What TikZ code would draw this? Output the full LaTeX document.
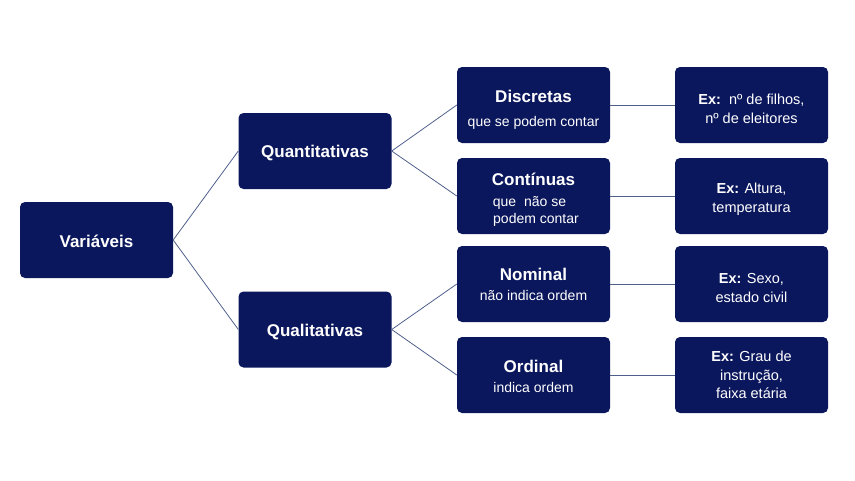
\documentclass[tikz,border=0pt]{standalone}
\usepackage{fontspec}
\setmainfont{Liberation Sans}
\definecolor{boxfill}{RGB}{11,23,92}
\definecolor{linecol}{RGB}{80,96,140}
\tikzset{
  x=1pt, y=-1pt,
  box/.style={draw=none, fill=boxfill, rounded corners=5pt, text=white, align=center,
    minimum width=153pt, minimum height=76pt, inner sep=2pt},
  sub/.style={font=\fontsize{14}{17}\selectfont},
  ex/.style={font=\fontsize{14.5}{18.8}\selectfont},
  conn/.style={draw=linecol, line width=0.8pt},
}
\newcommand{\ttl}[1]{{\fontsize{17}{20}\selectfont\bfseries #1}}
\newcommand{\up}[1]{\rule{0pt}{#1}}
\begin{document}
\begin{tikzpicture}
\useasboundingbox (0,0) rectangle (855,480);
\node[box,sub] (var) at (96.5,240) {\ttl{\up{15pt}Variáveis}};
\node[box,sub] (quan) at (315,151) {\ttl{\up{17pt}Quantitativas}};
\node[box,sub] (qual) at (315,329.5) {\ttl{\up{17pt}Qualitativas}};
\node[box,sub] (disc) at (533.5,105) {\ttl{\up{22pt}Discretas}\\[7pt]que se podem contar};
\node[box,sub] (cont) at (533.5,196) {\ttl{\up{20pt}Contínuas}\\[4pt]\hspace*{-8pt}que\ \ não se\\\hspace*{5pt}podem contar};
\node[box,sub] (nom) at (533.5,284) {\ttl{\up{13pt}Nominal}\\[3pt]não indica ordem};
\node[box,sub] (ord) at (533.5,375) {\ttl{\up{15pt}Ordinal}\\[3pt]indica ordem};
\node[box,ex] (exd) at (751.5,105) {\up{17.5pt}\textbf{Ex:}\ \ nº de filhos,\\nº de eleitores};
\node[box,ex] (exc) at (751.5,196) {\up{17.5pt}\textbf{Ex:} Altura,\\temperatura};
\node[box,ex] (exn) at (751.5,284) {\up{17.5pt}\textbf{Ex:} Sexo,\\estado civil};
\node[box,ex] (exo) at (751.5,375) {\textbf{Ex:} Grau de\\instrução,\\faixa etária};
\draw[conn] (var.east) -- (quan.west);
\draw[conn] (var.east) -- (qual.west);
\draw[conn] (quan.east) -- (disc.west);
\draw[conn] (quan.east) -- (cont.west);
\draw[conn] (qual.east) -- (nom.west);
\draw[conn] (qual.east) -- (ord.west);
\draw[conn] (disc.east) -- (exd.west);
\draw[conn] (cont.east) -- (exc.west);
\draw[conn] (nom.east) -- (exn.west);
\draw[conn] (ord.east) -- (exo.west);
\end{tikzpicture}
\end{document}
